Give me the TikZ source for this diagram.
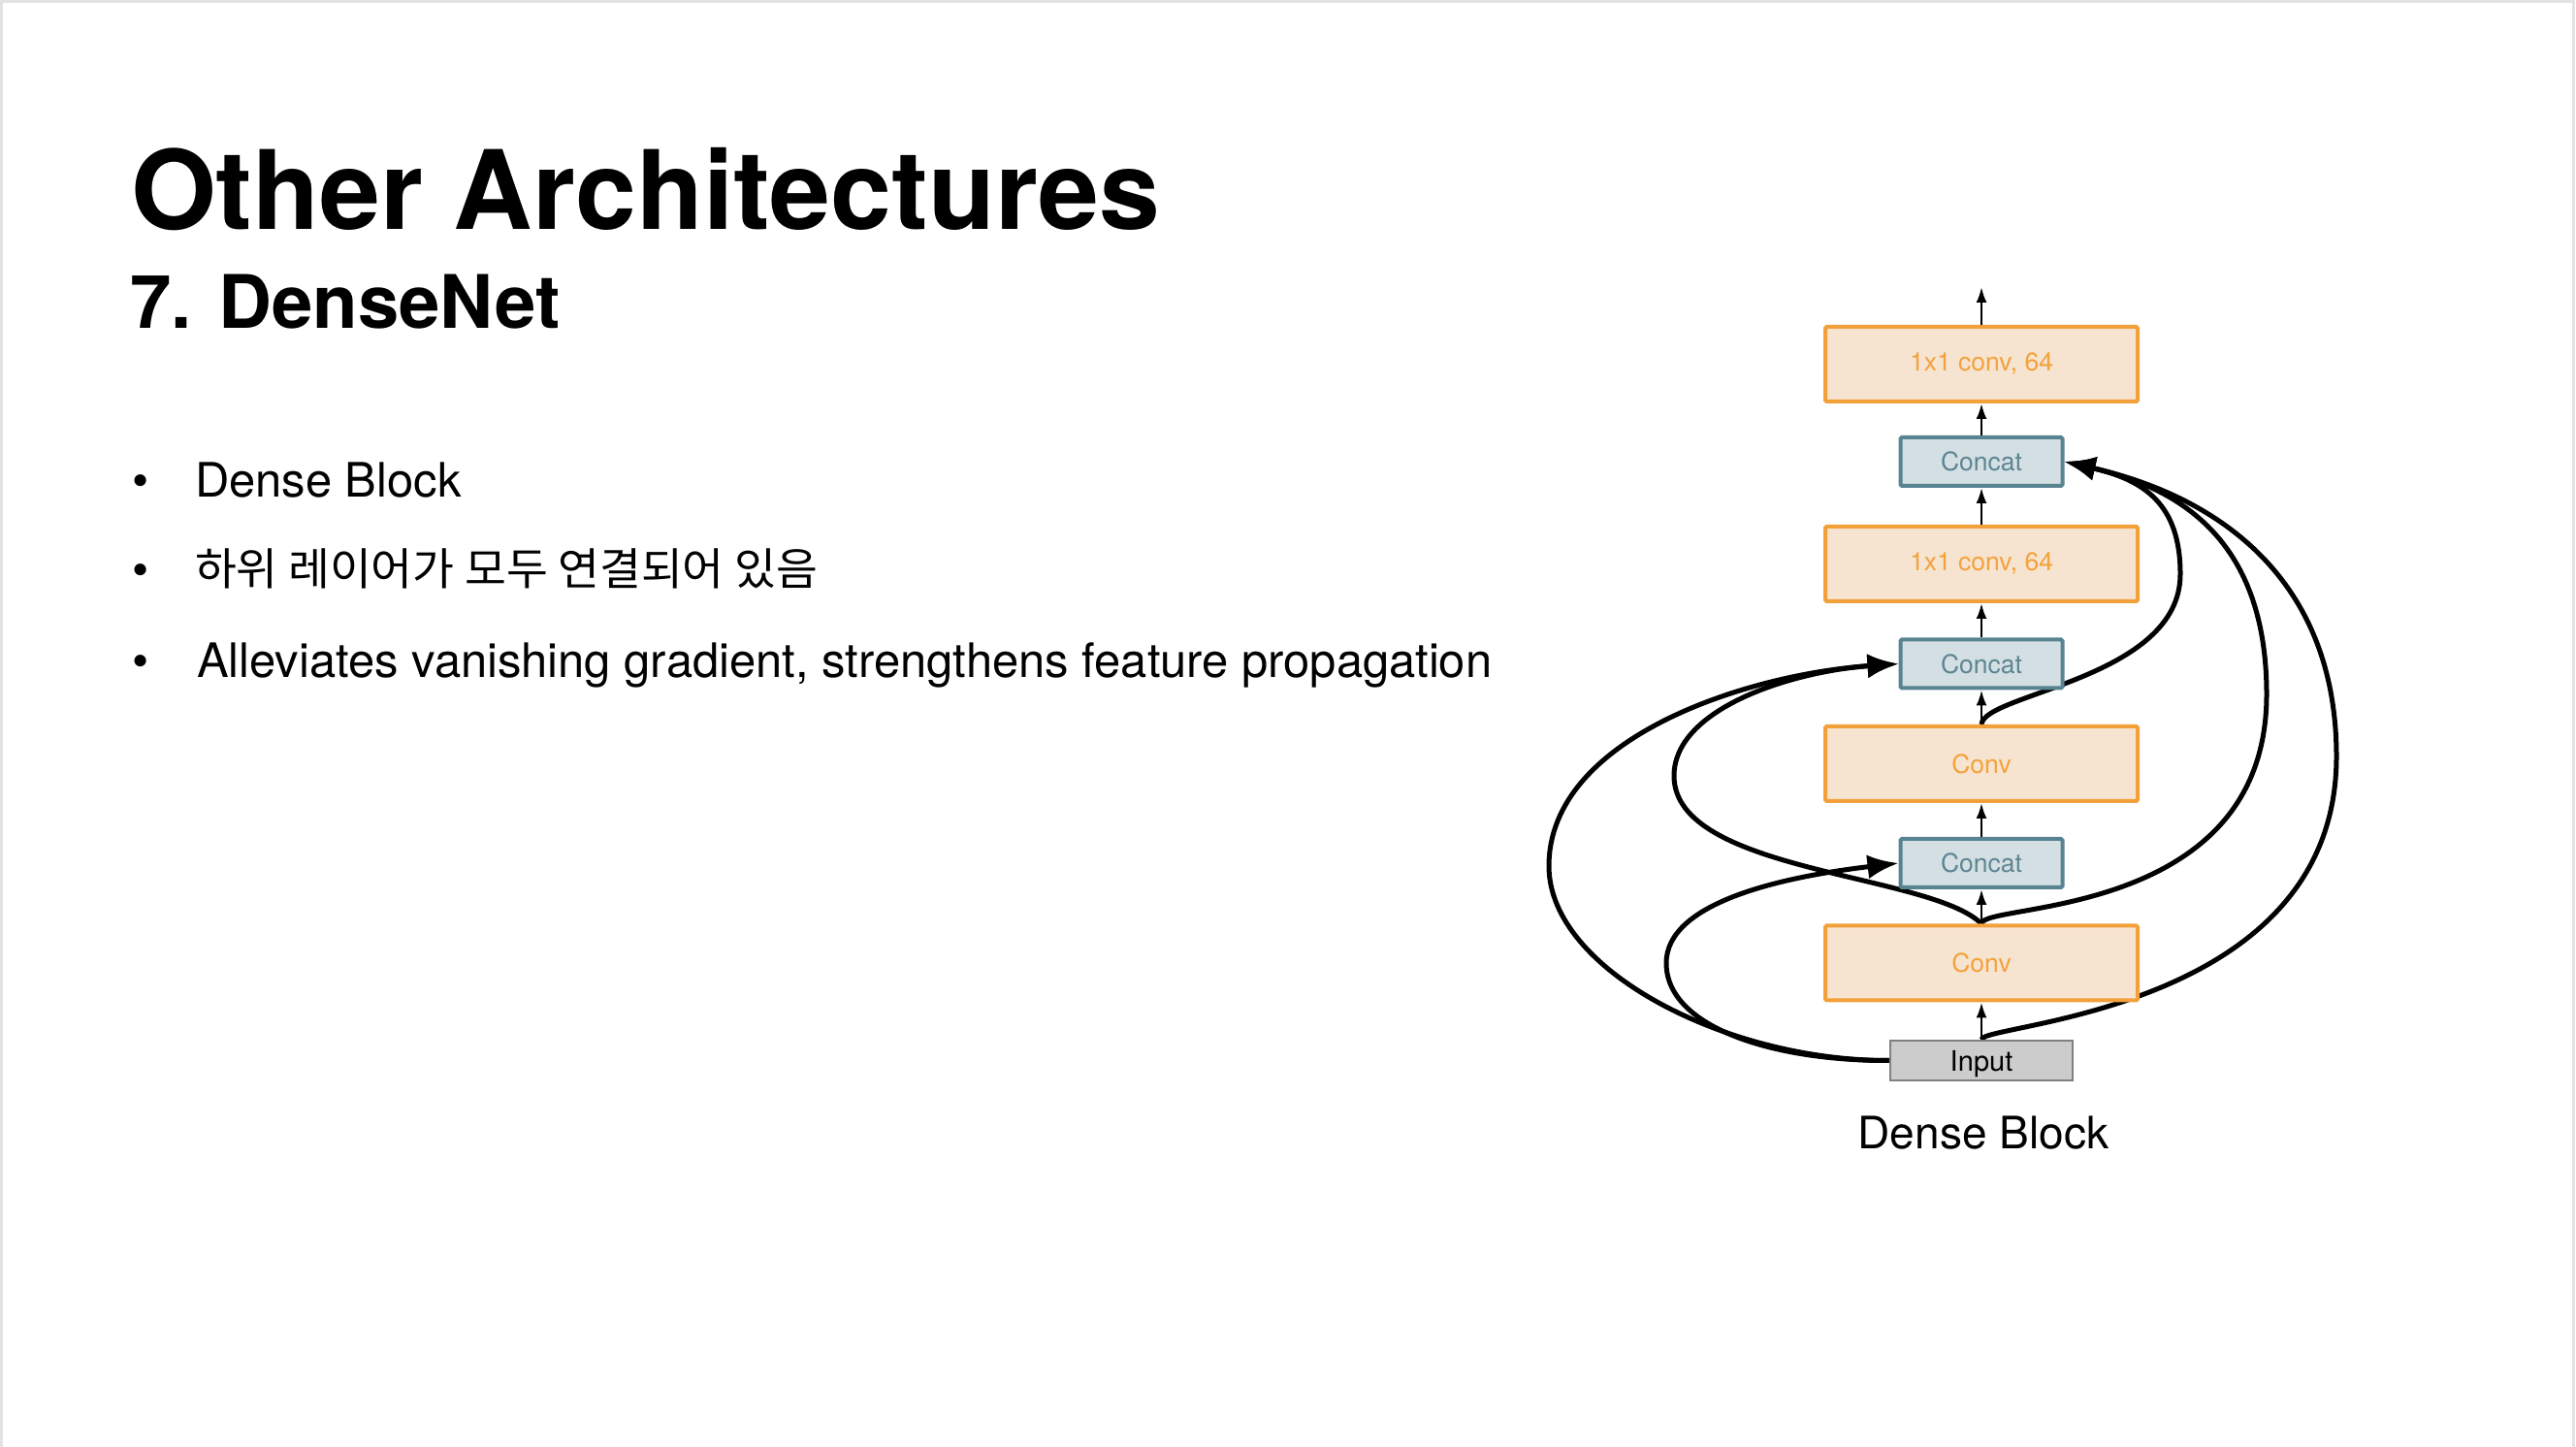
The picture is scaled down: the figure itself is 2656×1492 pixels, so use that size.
\documentclass[tikz,border=0pt]{standalone}
\usepackage{fontspec}
\usepackage{graphicx}
\setmainfont{TeX Gyre Heros}
\newfontfamily\krfont{Noto Sans CJK KR}
\usetikzlibrary{arrows.meta,backgrounds}

\definecolor{convfill}{RGB}{247,228,208}
\definecolor{convline}{RGB}{242,160,58}
\definecolor{convtext}{RGB}{243,162,60}
\definecolor{catfill}{RGB}{212,223,227}
\definecolor{catline}{RGB}{88,132,145}
\definecolor{cattext}{RGB}{92,134,146}
\definecolor{inputfill}{RGB}{204,204,204}
\definecolor{inputline}{RGB}{128,128,128}
\definecolor{frameline}{RGB}{226,226,226}

\tikzset{
  txt/.style={anchor=base west, inner sep=0pt, outer sep=0pt},
  titletxt/.style={txt, font=\fontsize{32.15pt}{38pt}\selectfont\bfseries},
  subtxt/.style={txt, font=\fontsize{21.65pt}{26pt}\selectfont\bfseries},
  itemtxt/.style={txt, font=\fontsize{13.92pt}{16pt}\selectfont},
  bullettxt/.style={anchor=base, inner sep=0pt, font=\fontsize{13.92pt}{16pt}\selectfont},
  boxlabel/.style={inner sep=0pt, font=\fontsize{7.54pt}{9pt}\selectfont},
  convbox/.style={boxlabel, draw=convline, fill=convfill, line width=0.4mm,
    minimum width=32.2mm, minimum height=7.7mm, rounded corners=0.15mm, text=convtext},
  catbox/.style={boxlabel, draw=catline, fill=catfill, line width=0.4mm,
    minimum width=16.7mm, minimum height=5mm, rounded corners=0.15mm, text=cattext},
  inbox/.style={inner sep=0pt, draw=inputline, fill=inputfill, line width=0.22mm,
    minimum width=18.8mm, minimum height=4.1mm, text depth=0pt,
    font=\fontsize{8.25pt}{10pt}\selectfont},
  captiontxt/.style={anchor=base, inner sep=0pt, font=\fontsize{13.1pt}{16pt}\selectfont},
  flow/.style={-{Latex[length=1.6mm,width=1.1mm]}, line width=0.25mm},
  skip/.style={-{Latex[length=3.2mm,width=2.5mm]}, line width=0.5mm},
}

\begin{document}
\begin{tikzpicture}[x=0.1mm,y=-0.1mm]
\useasboundingbox (0,0) rectangle (2656,1492);

% headings
\node[titletxt] (title) at (135,237) {Other Architectures};
\node[subtxt] (subtitle) at (134,339) {7. DenseNet};

% bullet list
\node[bullettxt] (b1dot) at (145,513) {\textbullet};
\node[itemtxt] (item1) at (201,513) {Dense Block};
\node[bullettxt] (b2dot) at (145,605) {\textbullet};
\node[txt, font=\fontsize{13pt}{15pt}\selectfont] (item2) at (201,604)
  {\krfont\scalebox{1.02}[1]{하위 레이어가 모두 연결되어 있음}};
\node[bullettxt] (b3dot) at (145,699) {\textbullet};
\node[itemtxt] (item3) at (203,699) {Alleviates vanishing gradient, strengthens feature propagation};

% dense block layers
\node[inbox]   (in)  at (2043,1093.5) {Input};
\node[convbox] (cv1) at (2043,993)    {Conv};
\node[catbox]  (cc1) at (2043,890)    {Concat};
\node[convbox] (cv2) at (2043,787.5)  {Conv};
\node[catbox]  (cc2) at (2043,684.5)  {Concat};
\node[convbox] (bn1) at (2043,581.5)  {1x1 conv, 64};
\node[catbox]  (cc3) at (2043,476)    {Concat};
\node[convbox] (bn2) at (2043,375.5)  {1x1 conv, 64};
\coordinate (out) at (2043,296);
\node[captiontxt] (caption) at (2045,1185) {Dense Block};

% main path
\draw[flow] (in) -- (cv1);
\draw[flow] (cv1) -- (cc1);
\draw[flow] (cc1) -- (cv2);
\draw[flow] (cv2) -- (cc2);
\draw[flow] (cc2) -- (bn1);
\draw[flow] (bn1) -- (cc3);
\draw[flow] (cc3) -- (bn2);
\draw[flow] (bn2.north) -- (out);

% turning points of the skip connections
\coordinate (lo)  at (1597,893);
\coordinate (lu)  at (1726,800);
\coordinate (ll)  at (1718,993);
\coordinate (r1)  at (2248,592);
\coordinate (r2)  at (2337,716);
\coordinate (r3)  at (2409,780);

\begin{pgfonlayer}{background}
  \fill[white] (0,0) rectangle (2656,1492);
  \draw[frameline, line width=0.3mm] (1.5,1492) -- (1.5,1.5) -- (2653,1.5) -- (2653,1492);

  % dense connections on the left
  \draw[skip] (in.west) .. controls (1780,1094) and (1597,1000) .. (lo)
              .. controls (1597,760) and (1803,695) .. (cc2.west);
  \draw[skip] (cv1.north) .. controls (1990,900) and (1726,900) .. (lu)
              .. controls (1726,730) and (1849,692) .. (cc2.west);
  \draw[skip] (in.west) .. controls (1830,1094) and (1718,1060) .. (ll)
              .. controls (1718,930) and (1839,904) .. (cc1.west);

  % dense connections on the right
  \draw[skip] (cv2.north) .. controls (2045,715) and (2248,700) .. (r1)
              .. controls (2248,520) and (2211,495) .. (cc3.east);
  \draw[skip] (cv1.north) .. controls (2043,930) and (2337,950) .. (r2)
              .. controls (2337,560) and (2251,504) .. (cc3.east);
  \draw[skip] (in.north) .. controls (2043,1055) and (2409,1045) .. (r3)
              .. controls (2409,600) and (2291,513) .. (cc3.east);
\end{pgfonlayer}
\end{tikzpicture}
\end{document}
